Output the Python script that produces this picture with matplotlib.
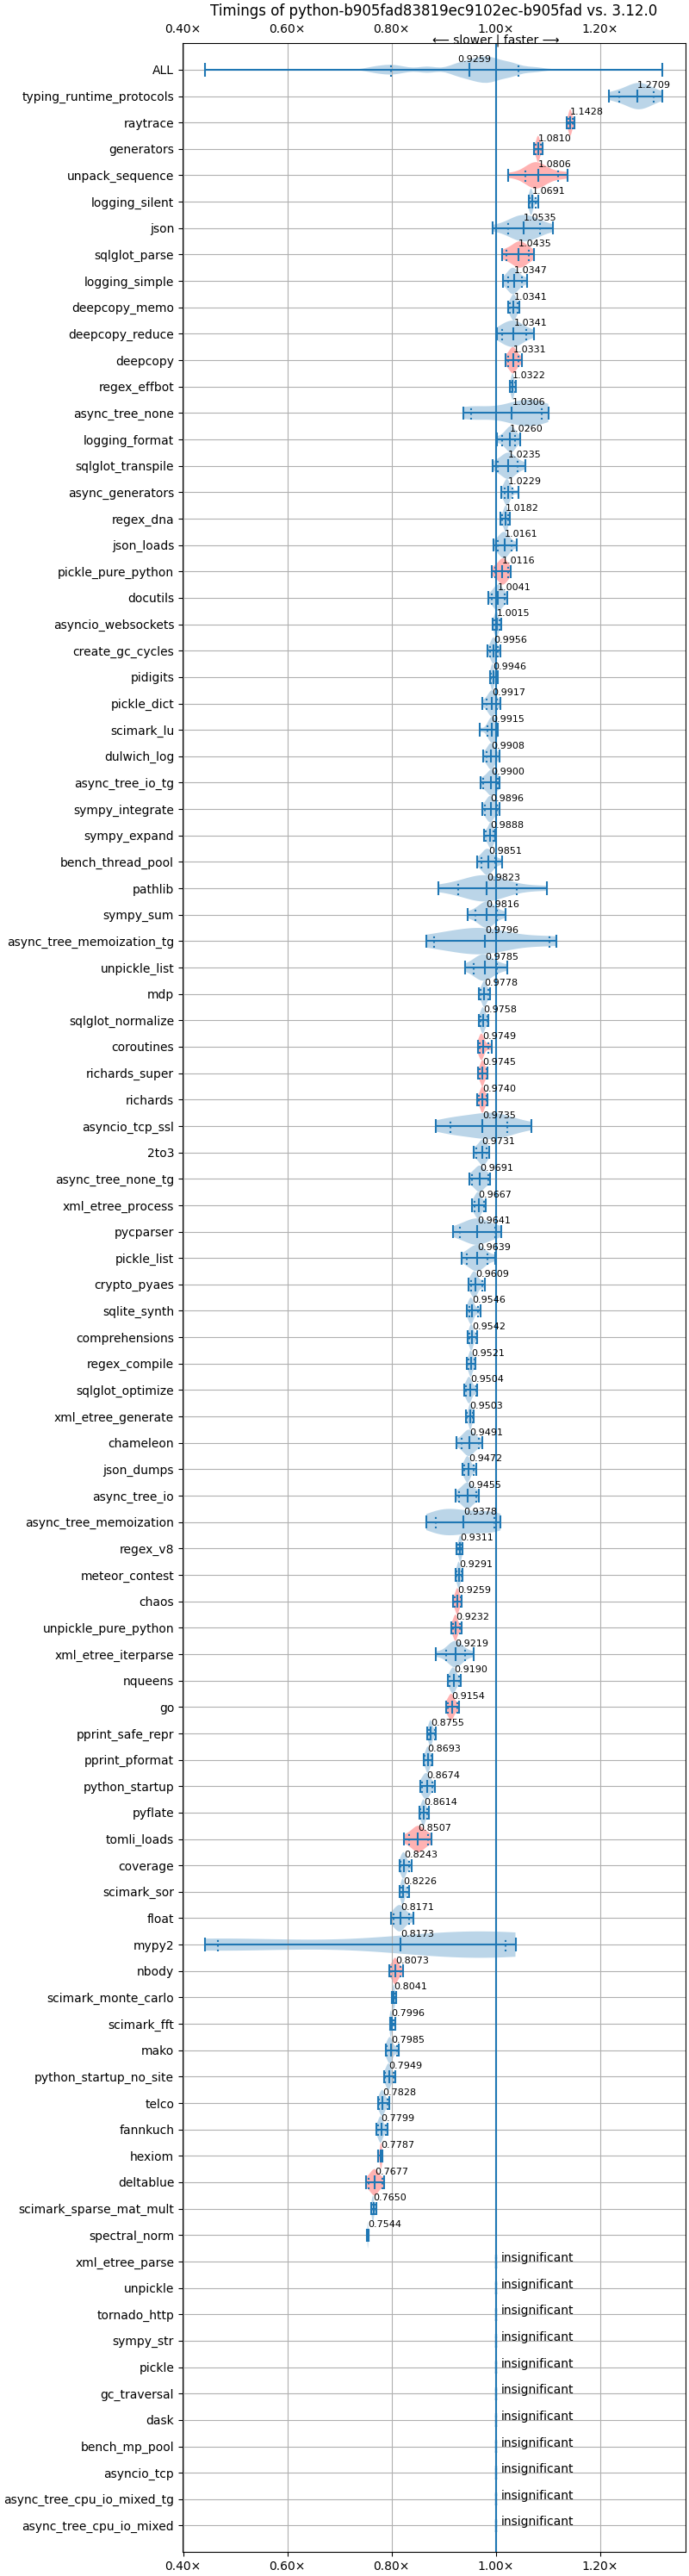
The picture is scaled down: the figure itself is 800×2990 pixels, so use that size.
import numpy as np
import matplotlib
matplotlib.use("Agg")
import matplotlib.pyplot as plt
from matplotlib.ticker import FuncFormatter, MultipleLocator

TITLE = "Timings of python-b905fad83819ec9102ec-b905fad vs. 3.12.0"
ALL_LABEL = "ALL"
ALL_MEAN = 0.9259

# ---- per-benchmark timing ratios (samples) ----
v_typing_runtime_protocols = [1.2175, 1.2387, 1.255, 1.263, 1.270, 1.275, 1.282, 1.288, 1.3000, 1.3196]
v_raytrace = [1.1358, 1.1396, 1.1405, 1.1415, 1.1425, 1.1430, 1.1440, 1.1445, 1.1468, 1.1507]
v_generators = [1.0734, 1.0762, 1.0790, 1.0800, 1.0807, 1.0813, 1.0819, 1.0825, 1.0861, 1.0889]
v_unpack_sequence = [1.0237, 1.0596, 1.070, 1.075, 1.078, 1.080, 1.082, 1.0839, 1.1164, 1.1374]
v_logging_silent = [1.0624, 1.0657, 1.0665, 1.0670, 1.0675, 1.0680, 1.0686, 1.0691, 1.0751, 1.0811]
v_json = [0.9939, 1.0270, 1.035, 1.043, 1.050, 1.057, 1.066, 1.0718, 1.0820, 1.1093]
v_sqlglot_parse = [1.0121, 1.0215, 1.034, 1.039, 1.043, 1.046, 1.0492, 1.055, 1.0618, 1.0734]
v_logging_simple = [1.0143, 1.0237, 1.027, 1.030, 1.032, 1.035, 1.0374, 1.040, 1.0486, 1.0590]
v_deepcopy_memo = [1.0237, 1.0276, 1.030, 1.032, 1.0335, 1.035, 1.036, 1.037, 1.0409, 1.0453]
v_deepcopy_reduce = [1.0017, 1.0127, 1.018, 1.025, 1.031, 1.037, 1.0414, 1.044, 1.0568, 1.0734]
v_deepcopy = [1.0182, 1.0232, 1.028, 1.0305, 1.032, 1.034, 1.035, 1.0368, 1.0431, 1.0502]
v_regex_effbot = [1.0265, 1.0287, 1.0305, 1.0312, 1.0318, 1.0322, 1.0328, 1.0333, 1.0364, 1.0386]
v_async_tree_none = [0.9370, 0.9536, 0.968, 1.030, 1.045, 1.055, 1.062, 1.0689, 1.0861, 1.1004]
v_logging_format = [1.0017, 1.0133, 1.020, 1.024, 1.027, 1.029, 1.031, 1.0322, 1.0354, 1.0464]
v_sqlglot_transpile = [0.9934, 1.0050, 1.014, 1.019, 1.022, 1.025, 1.028, 1.0321, 1.0408, 1.0557]
v_async_generators = [1.0105, 1.0177, 1.019, 1.020, 1.021, 1.022, 1.0228, 1.0237, 1.0298, 1.0425]
v_regex_dna = [1.0088, 1.0121, 1.016, 1.0172, 1.0182, 1.019, 1.0198, 1.0207, 1.0232, 1.0270]
v_json_loads = [0.9956, 1.0044, 1.009, 1.012, 1.015, 1.017, 1.019, 1.0206, 1.0281, 1.0403]
v_pickle_pure_python = [0.9923, 0.9989, 1.006, 1.009, 1.0115, 1.0135, 1.0155, 1.018, 1.0226, 1.0287]
v_docutils = [0.9857, 0.9934, 0.998, 1.001, 1.003, 1.005, 1.008, 1.0094, 1.0155, 1.0220]
v_asyncio_websockets = [0.9934, 0.9967, 0.999, 1.000, 1.001, 1.0015, 1.002, 1.0037, 1.0072, 1.0105]
v_create_gc_cycles = [0.9834, 0.9895, 0.992, 0.994, 0.995, 0.996, 0.997, 0.9981, 1.0022, 1.0088]
v_pidigits = [0.9879, 0.9912, 0.9925, 0.993, 0.9935, 0.994, 0.9942, 0.9947, 1.0006, 1.0044]
v_pickle_dict = [0.9735, 0.9823, 0.987, 0.990, 0.992, 0.993, 0.994, 0.9958, 1.0006, 1.0088]
v_scimark_lu = [0.9685, 0.9851, 0.988, 0.990, 0.992, 0.994, 0.995, 0.9963, 1.0017, 1.0044]
v_dulwich_log = [0.9757, 0.9823, 0.986, 0.988, 0.990, 0.992, 0.993, 0.9944, 0.9994, 1.0072]
v_async_tree_io_tg = [0.9702, 0.9763, 0.984, 0.988, 0.990, 0.992, 0.994, 0.9961, 1.0033, 1.0061]
v_sympy_integrate = [0.9735, 0.9801, 0.984, 0.987, 0.989, 0.990, 0.992, 0.9926, 1.0006, 1.0072]
v_sympy_expand = [0.9768, 0.9801, 0.986, 0.988, 0.989, 0.990, 0.991, 0.9926, 0.9956, 0.9989]
v_bench_thread_pool = [0.9636, 0.9730, 0.978, 0.981, 0.983, 0.985, 0.988, 0.9895, 0.9978, 1.0121]
v_pathlib = [0.8891, 0.9316, 0.955, 0.970, 0.978, 0.985, 0.990, 0.993, 1.0331, 1.0982]
v_sympy_sum = [0.9459, 0.9620, 0.972, 0.977, 0.981, 0.984, 0.987, 0.9889, 1.0000, 1.0182]
v_async_tree_memoization_tg = [0.8659, 0.8830, 0.935, 0.955, 0.968, 0.980, 0.990, 1.0012, 1.1015, 1.1164]
v_unpickle_list = [0.9404, 0.9592, 0.966, 0.971, 0.975, 0.979, 0.983, 0.9898, 1.0006, 1.0210]
v_mdp = [0.9674, 0.9713, 0.975, 0.9765, 0.9775, 0.978, 0.979, 0.9803, 0.9851, 0.9879]
v_sqlglot_normalize = [0.9674, 0.9702, 0.973, 0.974, 0.975, 0.9757, 0.9765, 0.9777, 0.9834, 0.9851]
v_coroutines = [0.9658, 0.9691, 0.971, 0.972, 0.9727, 0.9733, 0.974, 0.9748, 0.9851, 0.9912]
v_richards_super = [0.9658, 0.9691, 0.972, 0.973, 0.974, 0.9746, 0.9754, 0.9765, 0.9812, 0.9834]
v_richards = [0.9636, 0.9680, 0.9715, 0.973, 0.974, 0.9745, 0.975, 0.9758, 0.9812, 0.9834]
v_asyncio_tcp_ssl = [0.8847, 0.9150, 0.930, 0.950, 0.975, 0.995, 0.995, 1.0048, 1.0171, 1.0684]
v_2to3 = [0.9570, 0.9620, 0.968, 0.971, 0.973, 0.975, 0.977, 0.9784, 0.9823, 0.9873]
v_async_tree_none_tg = [0.9492, 0.9553, 0.962, 0.966, 0.968, 0.970, 0.972, 0.9745, 0.9845, 0.9895]
v_xml_etree_process = [0.9542, 0.9592, 0.962, 0.964, 0.9655, 0.967, 0.968, 0.9691, 0.9768, 0.9812]
v_pycparser = [0.9178, 0.9316, 0.948, 0.955, 0.960, 0.966, 0.974, 0.9803, 0.9978, 1.0105]
v_pickle_list = [0.9343, 0.9454, 0.953, 0.958, 0.962, 0.966, 0.969, 0.9712, 0.9812, 0.9989]
v_crypto_pyaes = [0.9470, 0.9525, 0.956, 0.958, 0.959, 0.960, 0.961, 0.9618, 0.9741, 0.9796]
v_sqlite_synth = [0.9437, 0.9492, 0.951, 0.952, 0.9525, 0.953, 0.9535, 0.9545, 0.9658, 0.9708]
v_comprehensions = [0.9465, 0.9492, 0.9515, 0.9525, 0.953, 0.9535, 0.954, 0.9552, 0.9619, 0.9647]
v_regex_compile = [0.9443, 0.9470, 0.950, 0.951, 0.9515, 0.952, 0.9527, 0.9537, 0.9580, 0.9608]
v_sqlglot_optimize = [0.9393, 0.9437, 0.946, 0.948, 0.949, 0.950, 0.9505, 0.9514, 0.9614, 0.9647]
v_xml_etree_generate = [0.9426, 0.9448, 0.949, 0.950, 0.9505, 0.951, 0.9512, 0.9517, 0.9547, 0.9575]
v_chameleon = [0.9244, 0.9354, 0.942, 0.945, 0.948, 0.950, 0.952, 0.9538, 0.9658, 0.9746]
v_json_dumps = [0.9360, 0.9398, 0.943, 0.945, 0.946, 0.947, 0.947, 0.9482, 0.9570, 0.9630]
v_async_tree_io = [0.9227, 0.9305, 0.938, 0.942, 0.945, 0.947, 0.949, 0.9503, 0.9625, 0.9680]
v_async_tree_memoization = [0.8664, 0.8874, 0.900, 0.910, 0.920, 0.940, 0.965, 0.9854, 0.9950, 1.0088]
v_regex_v8 = [0.9250, 0.9272, 0.9295, 0.9305, 0.931, 0.9315, 0.932, 0.9335, 0.9343, 0.9365]
v_meteor_contest = [0.9227, 0.9249, 0.927, 0.928, 0.9285, 0.929, 0.9296, 0.9305, 0.9343, 0.9365]
v_chaos = [0.9178, 0.9205, 0.924, 0.925, 0.9255, 0.926, 0.9265, 0.9278, 0.9316, 0.9343]
v_unpickle_pure_python = [0.9145, 0.9172, 0.921, 0.922, 0.9225, 0.923, 0.9232, 0.9238, 0.9305, 0.9343]
v_xml_etree_iterparse = [0.8852, 0.9067, 0.914, 0.918, 0.921, 0.924, 0.926, 0.9284, 0.9382, 0.9575]
v_nqueens = [0.9078, 0.9106, 0.915, 0.917, 0.918, 0.919, 0.9198, 0.9208, 0.9288, 0.9332]
v_go = [0.9040, 0.9073, 0.911, 0.913, 0.9145, 0.9155, 0.9163, 0.9175, 0.9255, 0.9294]
v_pprint_safe_repr = [0.8681, 0.8709, 0.873, 0.874, 0.8747, 0.8753, 0.876, 0.8764, 0.8819, 0.8847]
v_pprint_pformat = [0.8609, 0.8637, 0.867, 0.868, 0.869, 0.8695, 0.870, 0.8716, 0.8753, 0.8780]
v_python_startup = [0.8543, 0.8587, 0.862, 0.864, 0.866, 0.868, 0.869, 0.8709, 0.8775, 0.8836]
v_pyflate = [0.8532, 0.8554, 0.859, 0.860, 0.861, 0.8615, 0.862, 0.8629, 0.8681, 0.8709]
v_tomli_loads = [0.8228, 0.8339, 0.842, 0.847, 0.850, 0.853, 0.855, 0.8577, 0.8692, 0.8764]
v_coverage = [0.8146, 0.8174, 0.821, 0.822, 0.823, 0.8237, 0.8245, 0.8257, 0.8322, 0.8389]
v_scimark_sor = [0.8157, 0.8185, 0.820, 0.821, 0.8215, 0.822, 0.8225, 0.8225, 0.8295, 0.8328]
v_float = [0.7980, 0.8046, 0.809, 0.812, 0.815, 0.818, 0.820, 0.8211, 0.8322, 0.8411]
v_mypy2 = [0.4426, 0.4686, 0.480, 0.870, 0.930, 0.960, 0.975, 0.993, 1.0157, 1.0375]
v_nbody = [0.7947, 0.7991, 0.804, 0.805, 0.8065, 0.8075, 0.8085, 0.8097, 0.8168, 0.8212]
v_scimark_monte_carlo = [0.7997, 0.8013, 0.803, 0.8035, 0.8039, 0.8042, 0.8045, 0.8045, 0.8074, 0.8090]
v_scimark_fft = [0.7964, 0.7980, 0.7981, 0.7983, 0.7985, 0.7987, 0.7988, 0.7989, 0.8035, 0.8068]
v_mako = [0.7881, 0.7914, 0.795, 0.796, 0.797, 0.7975, 0.798, 0.7994, 0.8091, 0.8135]
v_python_startup_no_site = [0.7848, 0.7881, 0.792, 0.7932, 0.794, 0.7946, 0.7955, 0.7965, 0.8035, 0.8068]
v_telco = [0.7732, 0.7759, 0.779, 0.781, 0.782, 0.783, 0.7838, 0.784, 0.7914, 0.7947]
v_fannkuch = [0.7710, 0.7737, 0.777, 0.778, 0.779, 0.7795, 0.780, 0.7813, 0.7881, 0.7914]
v_hexiom = [0.7732, 0.7748, 0.7785, 0.7789, 0.7791, 0.7794, 0.7797, 0.7799, 0.7809, 0.7826]
v_deltablue = [0.7506, 0.7561, 0.762, 0.765, 0.767, 0.768, 0.770, 0.7715, 0.7809, 0.7859]
v_scimark_sparse_mat_mult = [0.7610, 0.7627, 0.7635, 0.764, 0.7643, 0.7645, 0.7647, 0.765, 0.7693, 0.7710]
v_spectral_norm = [0.7528, 0.7534, 0.7540, 0.7542, 0.7543, 0.7544, 0.7546, 0.7547, 0.7555, 0.7561]

benchmarks = [
    "typing_runtime_protocols", "raytrace", "generators", "unpack_sequence", "logging_silent",
    "json", "sqlglot_parse", "logging_simple", "deepcopy_memo", "deepcopy_reduce", "deepcopy",
    "regex_effbot", "async_tree_none", "logging_format", "sqlglot_transpile", "async_generators",
    "regex_dna", "json_loads", "pickle_pure_python", "docutils", "asyncio_websockets",
    "create_gc_cycles", "pidigits", "pickle_dict", "scimark_lu", "dulwich_log", "async_tree_io_tg",
    "sympy_integrate", "sympy_expand", "bench_thread_pool", "pathlib", "sympy_sum",
    "async_tree_memoization_tg", "unpickle_list", "mdp", "sqlglot_normalize", "coroutines",
    "richards_super", "richards", "asyncio_tcp_ssl", "2to3", "async_tree_none_tg",
    "xml_etree_process", "pycparser", "pickle_list", "crypto_pyaes", "sqlite_synth",
    "comprehensions", "regex_compile", "sqlglot_optimize", "xml_etree_generate", "chameleon",
    "json_dumps", "async_tree_io", "async_tree_memoization", "regex_v8", "meteor_contest", "chaos",
    "unpickle_pure_python", "xml_etree_iterparse", "nqueens", "go", "pprint_safe_repr",
    "pprint_pformat", "python_startup", "pyflate", "tomli_loads", "coverage", "scimark_sor",
    "float", "mypy2", "nbody", "scimark_monte_carlo", "scimark_fft", "mako",
    "python_startup_no_site", "telco", "fannkuch", "hexiom", "deltablue",
    "scimark_sparse_mat_mult", "spectral_norm",
]

samples = [
    v_typing_runtime_protocols, v_raytrace, v_generators, v_unpack_sequence, v_logging_silent,
    v_json, v_sqlglot_parse, v_logging_simple, v_deepcopy_memo, v_deepcopy_reduce, v_deepcopy,
    v_regex_effbot, v_async_tree_none, v_logging_format, v_sqlglot_transpile, v_async_generators,
    v_regex_dna, v_json_loads, v_pickle_pure_python, v_docutils, v_asyncio_websockets,
    v_create_gc_cycles, v_pidigits, v_pickle_dict, v_scimark_lu, v_dulwich_log, v_async_tree_io_tg,
    v_sympy_integrate, v_sympy_expand, v_bench_thread_pool, v_pathlib, v_sympy_sum,
    v_async_tree_memoization_tg, v_unpickle_list, v_mdp, v_sqlglot_normalize, v_coroutines,
    v_richards_super, v_richards, v_asyncio_tcp_ssl, v_2to3, v_async_tree_none_tg,
    v_xml_etree_process, v_pycparser, v_pickle_list, v_crypto_pyaes, v_sqlite_synth,
    v_comprehensions, v_regex_compile, v_sqlglot_optimize, v_xml_etree_generate, v_chameleon,
    v_json_dumps, v_async_tree_io, v_async_tree_memoization, v_regex_v8, v_meteor_contest, v_chaos,
    v_unpickle_pure_python, v_xml_etree_iterparse, v_nqueens, v_go, v_pprint_safe_repr,
    v_pprint_pformat, v_python_startup, v_pyflate, v_tomli_loads, v_coverage, v_scimark_sor,
    v_float, v_mypy2, v_nbody, v_scimark_monte_carlo, v_scimark_fft, v_mako,
    v_python_startup_no_site, v_telco, v_fannkuch, v_hexiom, v_deltablue,
    v_scimark_sparse_mat_mult, v_spectral_norm,
]

means = [
    1.2709, 1.1428, 1.0810, 1.0806, 1.0691, 1.0535, 1.0435, 1.0347, 1.0341, 1.0341, 1.0331,
    1.0322, 1.0306, 1.0260, 1.0235, 1.0229, 1.0182, 1.0161, 1.0116, 1.0041, 1.0015,
    0.9956, 0.9946, 0.9917, 0.9915, 0.9908, 0.9900, 0.9896, 0.9888, 0.9851, 0.9823, 0.9816,
    0.9796, 0.9785, 0.9778, 0.9758, 0.9749, 0.9745, 0.9740, 0.9735, 0.9731, 0.9691,
    0.9667, 0.9641, 0.9639, 0.9609, 0.9546, 0.9542, 0.9521, 0.9504, 0.9503, 0.9491,
    0.9472, 0.9455, 0.9378, 0.9311, 0.9291, 0.9259, 0.9232, 0.9219, 0.9190, 0.9154, 0.8755,
    0.8693, 0.8674, 0.8614, 0.8507, 0.8243, 0.8226, 0.8171, 0.8173, 0.8073, 0.8041, 0.7996,
    0.7985, 0.7949, 0.7828, 0.7799, 0.7787, 0.7677, 0.7650, 0.7544,
]

red_benchmarks = [
    "raytrace", "generators", "unpack_sequence", "sqlglot_parse", "deepcopy",
    "pickle_pure_python", "coroutines", "richards_super", "richards", "chaos",
    "unpickle_pure_python", "go", "tomli_loads", "nbody", "hexiom", "deltablue",
]

insignificant = [
    "xml_etree_parse", "unpickle", "tornado_http", "sympy_str", "pickle", "gc_traversal",
    "dask", "bench_mp_pool", "asyncio_tcp", "async_tree_cpu_io_mixed_tg", "async_tree_cpu_io_mixed",
]

# ---- build the figure ----
rows = [ALL_LABEL] + benchmarks + insignificant
n = len(rows)
positions = np.arange(n, 0, -1)

all_data = np.concatenate([np.asarray(s, dtype=float) for s in samples])
datasets = ([all_data] + [np.asarray(s, dtype=float) for s in samples]
            + [np.array([1.0]) for _ in insignificant])


def bandwidth(kde):
    # narrower kernel for the pooled "ALL" distribution
    if kde.num_dp > 100:
        return 0.15
    return kde.scotts_factor()


fig, ax = plt.subplots(figsize=(8, 29.9), dpi=100, layout="constrained")
ax.axvline(1.0, color="C0")

kw = dict(positions=positions, widths=1.0, showmeans=True, showextrema=True,
          quantiles=[[0.1, 0.9]] * n, bw_method=bandwidth)
try:
    parts = ax.violinplot(datasets, orientation="horizontal", **kw)
except TypeError:
    parts = ax.violinplot(datasets, vert=False, **kw)
parts["cquantiles"].set_linestyle(":")

for name in red_benchmarks:
    parts["bodies"][rows.index(name)].set_facecolor("red")

label_means = [ALL_MEAN] + means
for i, m in enumerate(label_means):
    ax.text(m, positions[i] + 0.3, f"{m:.4f}", size=8)

for name in insignificant:
    ax.text(1.01, positions[rows.index(name)], "insignificant")

ax.set_yticks(positions, rows)
ax.set_ylim(0, n + 1)
ax.xaxis.set_major_locator(MultipleLocator(0.2))
ax.xaxis.set_major_formatter(FuncFormatter(lambda x, p: f"{x:.2f}\u00d7"))
ax.tick_params(axis="x", labelbottom=True, labeltop=True)
ax.grid()
ax.set_title(TITLE)
ax.text(1.0, n + 1, "\u27f5 slower | faster \u27f6", ha="center", va="baseline")

fig.savefig("out.png", dpi=100)
